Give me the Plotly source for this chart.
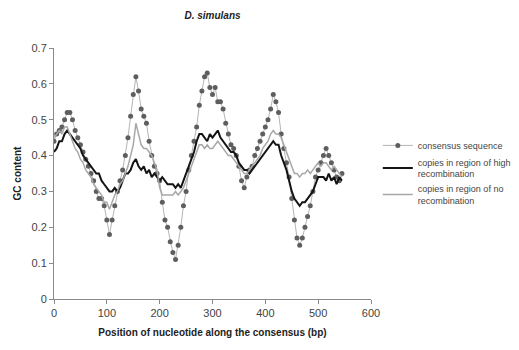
import plotly.graph_objects as go

positions = list(range(0, 550, 5))

consensus = [
    0.44, 0.46, 0.47, 0.48, 0.50, 0.52, 0.52, 0.50, 0.47, 0.45,
    0.43, 0.41, 0.39, 0.37, 0.35, 0.33, 0.30, 0.28, 0.28, 0.26,
    0.22, 0.18, 0.22, 0.26, 0.30, 0.33, 0.36, 0.40, 0.45, 0.51,
    0.57, 0.62, 0.58, 0.53, 0.51, 0.49, 0.44, 0.40, 0.37, 0.35,
    0.33, 0.27, 0.22, 0.20, 0.16, 0.13, 0.11, 0.15, 0.20, 0.26,
    0.30, 0.36, 0.40, 0.44, 0.48, 0.54, 0.58, 0.62, 0.63, 0.59,
    0.57, 0.59, 0.55, 0.55, 0.53, 0.49, 0.46, 0.43, 0.42, 0.40,
    0.37, 0.33, 0.31, 0.34, 0.36, 0.37, 0.40, 0.42, 0.44, 0.46,
    0.48, 0.50, 0.53, 0.57, 0.55, 0.52, 0.46, 0.42, 0.38, 0.34,
    0.28, 0.22, 0.17, 0.15, 0.17, 0.20, 0.23, 0.26, 0.30, 0.34,
    0.36, 0.38, 0.40, 0.42, 0.40, 0.38, 0.36, 0.34, 0.33, 0.35,
]

high_recomb = [
    0.41, 0.42, 0.44, 0.44, 0.46, 0.47, 0.46, 0.45, 0.44, 0.43,
    0.42, 0.40, 0.39, 0.38, 0.37, 0.36, 0.35, 0.35, 0.33, 0.32,
    0.31, 0.30, 0.30, 0.31, 0.30, 0.31, 0.33, 0.35, 0.35, 0.36,
    0.38, 0.39, 0.37, 0.36, 0.37, 0.35, 0.36, 0.34, 0.35, 0.34,
    0.33, 0.34, 0.33, 0.32, 0.32, 0.32, 0.31, 0.32, 0.31, 0.33,
    0.35, 0.37, 0.39, 0.41, 0.44, 0.46, 0.46, 0.45, 0.44, 0.46,
    0.45, 0.46, 0.47, 0.45, 0.44, 0.43, 0.42, 0.41, 0.41, 0.40,
    0.38, 0.37, 0.36, 0.36, 0.35, 0.36, 0.37, 0.38, 0.39, 0.40,
    0.41, 0.42, 0.43, 0.44, 0.43, 0.43, 0.40, 0.38, 0.36, 0.33,
    0.30, 0.28, 0.27, 0.26, 0.27, 0.27, 0.28, 0.29, 0.30, 0.32,
    0.34, 0.34, 0.34, 0.33, 0.35, 0.33, 0.34, 0.32, 0.34, 0.33,
]

no_recomb = [
    0.45, 0.46, 0.47, 0.46, 0.48, 0.48, 0.46, 0.44, 0.42, 0.41,
    0.39, 0.38, 0.36, 0.35, 0.34, 0.32, 0.31, 0.30, 0.29, 0.27,
    0.27, 0.25, 0.27, 0.29, 0.30, 0.32, 0.33, 0.35, 0.37, 0.40,
    0.43, 0.49, 0.46, 0.43, 0.42, 0.42, 0.41, 0.40, 0.38, 0.36,
    0.31, 0.29, 0.29, 0.29, 0.29, 0.29, 0.30, 0.29, 0.30, 0.31,
    0.33, 0.35, 0.37, 0.39, 0.41, 0.43, 0.43, 0.42, 0.43, 0.42,
    0.42, 0.43, 0.44, 0.43, 0.42, 0.41, 0.40, 0.40, 0.39, 0.38,
    0.37, 0.36, 0.35, 0.35, 0.36, 0.37, 0.38, 0.39, 0.40, 0.42,
    0.43, 0.44, 0.46, 0.47, 0.46, 0.46, 0.45, 0.43, 0.41, 0.39,
    0.37, 0.35, 0.35, 0.34, 0.35, 0.35, 0.36, 0.35, 0.36, 0.37,
    0.38, 0.37, 0.38, 0.38, 0.37, 0.36, 0.37, 0.36, 0.35, 0.34,
]

names = ["consensus sequence",
         "copies in region of high<br>recombination",
         "copies in region of no<br>recombination"]

y_ticks = [0, 0.1, 0.2, 0.3, 0.4, 0.5, 0.6, 0.7]
y_labels = ["0", "0.1", "0.2", "0.3", "0.4", "0.5", "0.6", "0.7"]
x_ticks = [0, 100, 200, 300, 400, 500, 600]

FONT = "Liberation Sans, Arial, sans-serif"

fig = go.Figure()
fig.add_trace(go.Scatter(
    x=positions, y=consensus, name=names[0], mode="lines+markers",
    line=dict(color="#b5b5b5", width=1),
    marker=dict(symbol="circle", size=5, color="#5e5e5e"),
))
fig.add_trace(go.Scatter(
    x=positions, y=high_recomb, name=names[1], mode="lines",
    line=dict(color="#141414", width=2),
))
fig.add_trace(go.Scatter(
    x=positions, y=no_recomb, name=names[2], mode="lines",
    line=dict(color="#a8a8a8", width=1.5),
))

fig.update_layout(
    width=519, height=350,
    margin=dict(l=54, r=148, t=48, b=51, autoexpand=False),
    paper_bgcolor="white", plot_bgcolor="white",
    font=dict(family=FONT, size=11, color="#444444"),
    title=dict(text="<b><i>D. simulans</i></b>", x=0.5, xref="paper",
               y=0.955, yref="container", yanchor="middle",
               font=dict(size=10, color="#222222")),
    showlegend=True,
    legend=dict(x=0.728, y=0.626, xref="container", yref="container",
                xanchor="left", yanchor="top",
                font=dict(size=9, color="#444444"),
                bgcolor="rgba(0,0,0,0)", itemwidth=30,
                tracegroupgap=8),
)
fig.update_xaxes(
    range=[0, 600], tickvals=x_ticks, showgrid=False, zeroline=False,
    showline=True, linecolor="#8a8a8a", linewidth=1,
    ticks="outside", ticklen=4, tickcolor="#8a8a8a",
    title=dict(text="<b>Position of nucleotide along the consensus (bp)</b>",
               font=dict(size=10, color="#222222"), standoff=10),
)
fig.update_yaxes(
    range=[0, 0.7], tickvals=y_ticks, ticktext=y_labels, showgrid=False,
    zeroline=False, showline=True, linecolor="#8a8a8a", linewidth=1,
    ticks="outside", ticklen=4, tickcolor="#8a8a8a",
    title=dict(text="<b>GC content</b>", font=dict(size=10, color="#222222"),
               standoff=8),
)

fig.write_html("out.html")
